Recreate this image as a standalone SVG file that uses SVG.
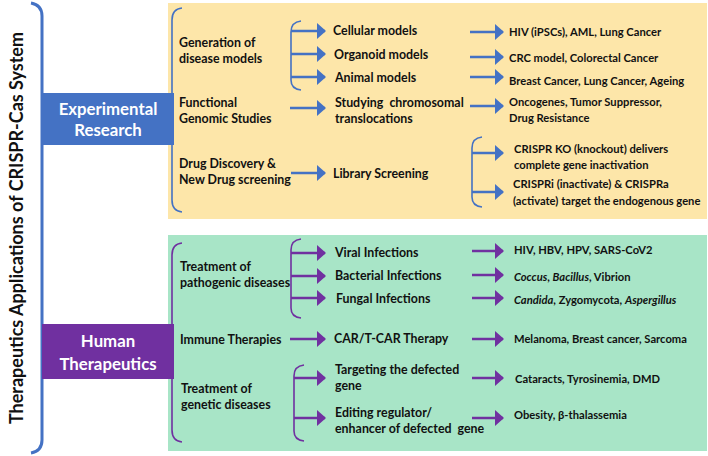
<svg xmlns="http://www.w3.org/2000/svg" width="708" height="456" viewBox="0 0 708 456">
<style>
text{font-family:Lato,"Open Sans","Liberation Sans",sans-serif;font-weight:bold;fill:#111;white-space:pre}
.l{font-size:12.4px}
.r{font-size:11.2px}
.w{fill:#fff;font-size:16.8px;text-anchor:middle}
.title{font-size:18px;text-anchor:middle}
.bb{fill:none;stroke:#4472C4;stroke-width:1.6}
.pb{fill:none;stroke:#7030A0;stroke-width:1.6}
.ba{stroke:#4472C4;stroke-width:2.5;fill:none;marker-end:url(#ab)}
.pa{stroke:#7030A0;stroke-width:2.5;fill:none;marker-end:url(#ap)}
</style>
<defs>
<marker id="ab" markerUnits="userSpaceOnUse" markerWidth="9" markerHeight="16" refX="8" refY="8" orient="auto"><path d="M0,0 L9,8 L0,16 z" fill="#4472C4"/></marker>
<marker id="ap" markerUnits="userSpaceOnUse" markerWidth="9" markerHeight="16" refX="8" refY="8" orient="auto"><path d="M0,0 L9,8 L0,16 z" fill="#7030A0"/></marker>
</defs>
<rect x="0" y="0" width="708" height="456" fill="#fff"/>

<g id="title">
<path d="M31,3 Q42,5 42,16 L42,440 Q42,451 31,453" fill="none" stroke="#4472C4" stroke-width="3"/>
<text class="title" transform="translate(23,228) rotate(-90)">Therapeutics Applications of CRISPR-Cas System</text>
</g>

<g id="experimental-panel">
<rect x="168" y="3" width="539" height="216" fill="#FDE6A9"/>
<path class="bb" d="M182,8 Q172,9 172,20 L172,200 Q172,211 182,212"/>
</g>
<g id="human-panel">
<rect x="168" y="235" width="539" height="216" fill="#A8E5C7"/>
<path class="pb" d="M182,243 Q172,244 172,255 L172,430 Q172,441 182,442"/>
</g>

<g id="experimental-research">
<rect x="42" y="93" width="132" height="52" fill="#4472C4"/>
<text class="w" x="108" y="115">Experimental</text>
<text class="w" x="108" y="136">Research</text>
</g>
<g id="human-therapeutics">
<rect x="42" y="324" width="132" height="55" fill="#7030A0"/>
<text class="w" x="108" y="347">Human</text>
<text class="w" x="108" y="370">Therapeutics</text>
</g>

<g id="generation"><text class="l" x="179" y="47">Generation of</text><text class="l" x="179" y="63">disease models</text></g>
<g id="functional"><text class="l" x="179" y="107">Functional</text><text class="l" x="179" y="123">Genomic Studies</text></g>
<g id="drug"><text class="l" x="179" y="168">Drug Discovery &amp;</text><text class="l" x="179" y="184">New Drug screening</text></g>

<g id="cellular"><text class="l" x="333" y="35">Cellular models</text></g>
<g id="organoid"><text class="l" x="334" y="59">Organoid models</text></g>
<g id="animal"><text class="l" x="335" y="82">Animal models</text></g>
<g id="chromosomal"><text class="l" x="335" y="107">Studying  chromosomal</text><text class="l" x="335" y="123">translocations</text></g>
<g id="library"><text class="l" x="333" y="178">Library Screening</text></g>

<g id="hiv-ipsc"><text class="r" x="509" y="36">HIV (iPSCs), AML, Lung Cancer</text></g>
<g id="crc"><text class="r" x="509" y="62">CRC model, Colorectal Cancer</text></g>
<g id="breast"><text class="r" x="509" y="85">Breast Cancer, Lung Cancer, Ageing</text></g>
<g id="oncogenes"><text class="r" x="509" y="106">Oncogenes, Tumor Suppressor,</text><text class="r" x="509" y="122">Drug Resistance</text></g>
<g id="crispr-ko"><text class="r" x="514" y="153">CRISPR KO (knockout) delivers</text><text class="r" x="514" y="169">complete gene inactivation</text></g>
<g id="crispri"><text class="r" x="513" y="188">CRISPRi (inactivate) &amp; CRISPRa</text><text class="r" x="513" y="205">(activate) target the endogenous gene</text></g>

<g id="pathogenic"><text class="l" x="180" y="271">Treatment of</text><text class="l" x="180" y="287">pathogenic diseases</text></g>
<g id="immune"><text class="l" x="180" y="344">Immune Therapies</text></g>
<g id="genetic"><text class="l" x="181" y="393">Treatment of</text><text class="l" x="181" y="409">genetic diseases</text></g>

<g id="viral"><text class="l" x="335" y="257">Viral Infections</text></g>
<g id="bacterial"><text class="l" x="335" y="280">Bacterial Infections</text></g>
<g id="fungal"><text class="l" x="336" y="303">Fungal Infections</text></g>
<g id="car"><text class="l" x="334" y="343">CAR/T-CAR Therapy</text></g>
<g id="targeting"><text class="l" x="335" y="374">Targeting the defected</text><text class="l" x="335" y="390">gene</text></g>
<g id="editing"><text class="l" x="335" y="417">Editing regulator/</text><text class="l" x="335" y="433">enhancer of defected  gene</text></g>

<g id="hiv-hbv"><text class="r" x="514" y="254">HIV, HBV, HPV, SARS-CoV2</text></g>
<g id="coccus"><text class="r" x="514" y="281"><tspan font-style="italic">Coccus</tspan>, <tspan font-style="italic">Bacillus</tspan>, Vibrion</text></g>
<g id="candida"><text class="r" x="514" y="304"><tspan font-style="italic">Candida</tspan>, Zygomycota, <tspan font-style="italic">Aspergillus</tspan></text></g>
<g id="melanoma"><text class="r" x="514" y="343">Melanoma, Breast cancer, Sarcoma</text></g>
<g id="cataracts"><text class="r" x="515" y="383">Cataracts, Tyrosinemia, DMD</text></g>
<g id="obesity"><text class="r" x="514" y="419">Obesity, β-thalassemia</text></g>

<g id="connectors">
<path class="bb" d="M301,21 Q291,22 291,32 L291,80 Q291,89 301,90"/>
<line class="ba" x1="291" y1="31" x2="325" y2="31"/>
<line class="ba" x1="291" y1="54" x2="325" y2="54"/>
<line class="ba" x1="291" y1="77" x2="325" y2="77"/>
<line class="ba" x1="290" y1="108" x2="325" y2="108"/>
<line class="ba" x1="291" y1="173" x2="325" y2="173"/>
<line class="ba" x1="470" y1="32" x2="503" y2="32"/>
<line class="ba" x1="470" y1="57" x2="503" y2="57"/>
<line class="ba" x1="470" y1="77" x2="503" y2="77"/>
<line class="ba" x1="470" y1="106" x2="503" y2="106"/>
<path class="bb" d="M482,137 Q472,138 472,148 L472,197 Q472,206 482,207"/>
<line class="ba" x1="472" y1="153" x2="503" y2="153"/>
<line class="ba" x1="472" y1="192" x2="503" y2="192"/>

<path class="pb" d="M301,239 Q291,240 291,250 L291,308 Q291,317 301,318"/>
<line class="pa" x1="291" y1="253" x2="325" y2="253"/>
<line class="pa" x1="291" y1="276" x2="325" y2="276"/>
<line class="pa" x1="291" y1="298" x2="325" y2="298"/>
<line class="pa" x1="290" y1="339" x2="325" y2="339"/>
<path class="pb" d="M304,365 Q294,366 294,376 L294,431 Q294,440 304,441"/>
<line class="pa" x1="294" y1="378" x2="325" y2="378"/>
<line class="pa" x1="294" y1="418" x2="325" y2="418"/>
<line class="pa" x1="472" y1="251" x2="503" y2="251"/>
<line class="pa" x1="472" y1="275" x2="503" y2="275"/>
<line class="pa" x1="472" y1="298" x2="503" y2="298"/>
<line class="pa" x1="472" y1="339" x2="503" y2="339"/>
<line class="pa" x1="472" y1="378" x2="503" y2="378"/>
<line class="pa" x1="472" y1="418" x2="503" y2="418"/>
</g>
</svg>
